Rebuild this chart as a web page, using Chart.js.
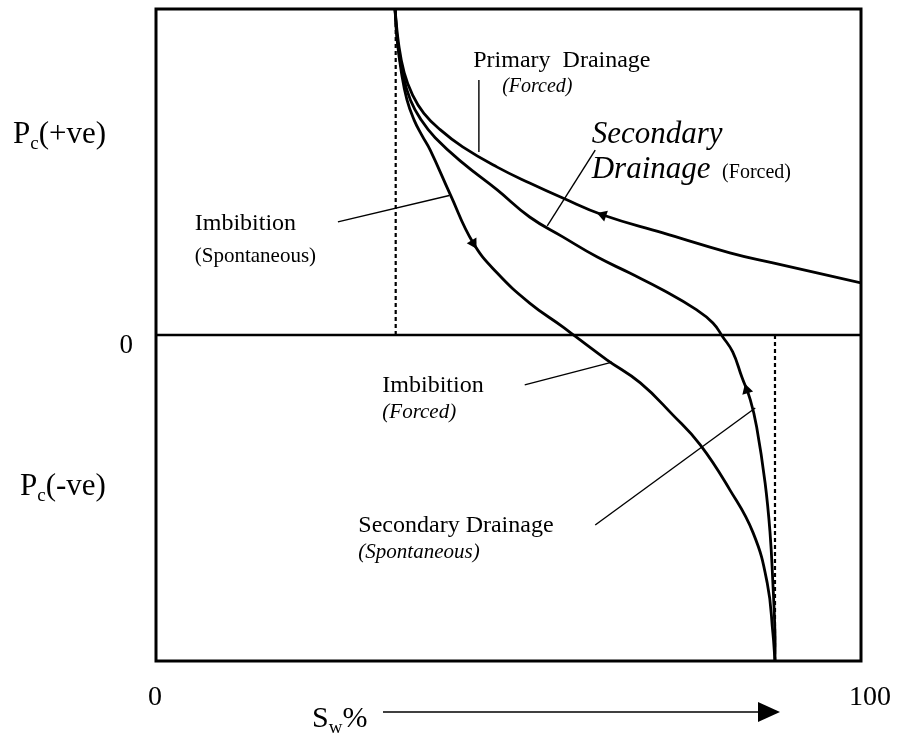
<!DOCTYPE html>
<html>
<head>
<meta charset="utf-8">
<title>Capillary pressure hysteresis</title>
<script src="https://cdn.jsdelivr.net/npm/chart.js@4.4.0/dist/chart.umd.min.js"></script>
<style>
  html, body { margin: 0; padding: 0; background: #fff; }
  #wrap { width: 897px; height: 734px; }
</style>
</head>
<body>
<div id="wrap"><canvas id="pcChart" width="897" height="734"></canvas></div>
<script>
// Sw in %, Pc in relative units (+100 = top of frame, -100 = bottom)
// every curve is listed in the direction the process runs

// Primary drainage (forced): from high Sw towards Swi
const primarySw = [100, 87.5, 81.4, 71.9, 63.4, 57.7, 53.0, 48.4, 43.5, 40.3, 38.0, 36.4, 35.2, 34.4, 33.9];
const primaryPc = [16.0, 22.1, 25.2, 31.3, 36.8, 42.0, 46.6, 51.5, 57.7, 63.0, 68.0, 73.6, 80.5, 89.5, 100];

// Secondary drainage: spontaneous (Pc < 0) then forced (Pc > 0)
const secondarySw = [87.8, 87.8, 87.5, 87.1, 86.4, 85.2, 84.3, 83.1, 81.8, 80.4, 79.0, 76.7, 71.9, 67.2, 62.6, 57.7, 53.0, 48.4, 43.5, 39.6, 37.6, 36.1, 35.0, 34.3, 33.9];
const secondaryPc = [-100, -91.4, -76.1, -60.7, -45.4, -28.2, -19.9, -12.9, -5.2, -0.6, 3.7, 7.7, 13.8, 19.0, 23.9, 30.1, 36.2, 44.5, 52.8, 60.5, 66.0, 72.0, 80.0, 89.5, 100];

// Imbibition: spontaneous (Pc > 0) then forced (Pc < 0)
const imbibitionSw = [33.9, 34.2, 34.8, 35.6, 36.6, 37.7, 38.9, 41.7, 45.0, 48.4, 53.0, 57.7, 59.4, 64.0, 68.7, 73.3, 77.2, 81.4, 84.7, 86.7, 87.5, 87.8];
const imbibitionPc = [100, 90.5, 80.7, 72.1, 66.0, 61.3, 56.7, 43.3, 28.2, 19.0, 9.8, 2.5, -0.3, -7.7, -14.7, -24.5, -33.7, -47.5, -60.7, -76.1, -91.4, -100];

// end point saturations (dashed verticals)
const swiSw = [34.0, 34.0];
const swiPc = [0, 100];
const sorSw = [87.8, 87.8];
const sorPc = [0, -100];

// direction arrows sitting on the curves
const arrowSw = [63.4, 45.0, 83.8];
const arrowPc = [36.8, 28.2, -16.9];

// leader lines from the labels to the curves: [Sw0, Pc0, Sw1, Pc1]
const leaderLines = [
    [45.8, 78.2, 45.8, 56.1],
    [62.3, 56.7, 55.5, 33.5],
    [25.8, 34.7, 41.6, 42.8],
    [52.3, -15.3, 64.7, -8.3],
    [62.3, -58.3, 85.0, -22.4]
];

const toPoints = (xs, ys) => xs.map((x, i) => ({ x, y: ys[i] }));

const primary = toPoints(primarySw, primaryPc);
const secondary = toPoints(secondarySw, secondaryPc);
const imbibition = toPoints(imbibitionSw, imbibitionPc);
const arrowCurves = [primary, imbibition, secondary];

// heading of a curve (degrees clockwise from up) near a given point
function curveHeading(chart, curve, pt) {
    const xs = chart.scales.x, ys = chart.scales.y;
    let best = 0, bestD = Infinity;
    curve.forEach((p, i) => {
        const d = (p.x - pt.x) ** 2 + (p.y - pt.y) ** 2;
        if (d < bestD) { bestD = d; best = i; }
    });
    const a = curve[Math.max(best - 1, 0)];
    const b = curve[Math.min(best + 1, curve.length - 1)];
    const dx = xs.getPixelForValue(b.x) - xs.getPixelForValue(a.x);
    const dy = ys.getPixelForValue(b.y) - ys.getPixelForValue(a.y);
    return Math.atan2(dx, -dy) * 180 / Math.PI;
}

const SERIF = '"Liberation Serif", "Times New Roman", serif';

// text placed inside the frame, anchored in data units (left / baseline)
const notes = [
    { text: 'Primary  Drainage', x: 45.0, y: 82.2, font: '24px ' + SERIF },
    { text: '(Forced)', x: 49.1, y: 74.5, font: 'italic 20px ' + SERIF },
    { text: 'Secondary', x: 61.8, y: 58.9, font: 'italic 31px ' + SERIF },
    { text: 'Drainage', x: 61.8, y: 48.2, font: 'italic 31px ' + SERIF },
    { text: '(Forced)', x: 80.3, y: 48.2, font: '20px ' + SERIF },
    { text: 'Imbibition', x: 5.5, y: 32.2, font: '24px ' + SERIF },
    { text: '(Spontaneous)', x: 5.5, y: 22.4, font: '21px ' + SERIF },
    { text: 'Imbibition', x: 32.1, y: -17.5, font: '24px ' + SERIF },
    { text: '(Forced)', x: 32.1, y: -25.5, font: 'italic 21px ' + SERIF },
    { text: 'Secondary Drainage', x: 28.7, y: -60.4, font: '24px ' + SERIF },
    { text: '(Spontaneous)', x: 28.7, y: -68.4, font: 'italic 21px ' + SERIF }
];

// draws main text + lowered subscript + rest
function drawSubscripted(ctx, main, sub, rest, x, y, size) {
    ctx.font = size + 'px ' + SERIF;
    ctx.fillText(main, x, y);
    let cx = x + ctx.measureText(main).width;
    ctx.font = Math.round(size * 0.62) + 'px ' + SERIF;
    ctx.fillText(sub, cx, y + size * 0.2);
    cx += ctx.measureText(sub).width;
    ctx.font = size + 'px ' + SERIF;
    ctx.fillText(rest, cx, y);
}

const framePlugin = {
    id: 'frame',
    beforeDatasetsDraw(chart) {
        const { ctx, chartArea: a, scales: { y } } = chart;
        ctx.save();
        ctx.strokeStyle = '#000';
        ctx.lineWidth = 3;
        ctx.strokeRect(a.left, a.top, a.right - a.left, a.bottom - a.top);
        const y0 = y.getPixelForValue(0);
        ctx.lineWidth = 2.5;
        ctx.beginPath();
        ctx.moveTo(a.left, y0);
        ctx.lineTo(a.right, y0);
        ctx.stroke();
        ctx.restore();
    },
    afterDraw(chart) {
        const { ctx, chartArea: a, scales: { x, y } } = chart;
        ctx.save();
        ctx.fillStyle = '#000';
        ctx.textBaseline = 'alphabetic';

        // labels inside the frame
        ctx.textAlign = 'left';
        notes.forEach(n => {
            ctx.font = n.font;
            ctx.fillText(n.text, x.getPixelForValue(n.x), y.getPixelForValue(n.y));
        });

        // y axis labels
        const y0 = y.getPixelForValue(0);
        drawSubscripted(ctx, 'P', 'c', '(+ve)', a.left - 143, a.top + 134, 31);
        drawSubscripted(ctx, 'P', 'c', '(-ve)', a.left - 136, a.top + 486, 31);
        ctx.font = '27px ' + SERIF;
        ctx.textAlign = 'right';
        ctx.fillText('0', a.left - 23, y0 + 18);

        // x axis labels
        ctx.textAlign = 'center';
        ctx.font = '28px ' + SERIF;
        ctx.fillText('0', x.getPixelForValue(0) - 1, a.bottom + 44);
        ctx.fillText('100', x.getPixelForValue(100) + 9, a.bottom + 44);

        ctx.textAlign = 'left';
        drawSubscripted(ctx, 'S', 'w', '%', a.left + 156, a.bottom + 66, 30);

        // Sw arrow
        const ay = a.bottom + 51;
        const ax0 = a.left + 227, ax1 = a.left + 624;
        ctx.strokeStyle = '#000';
        ctx.lineWidth = 1.5;
        ctx.beginPath();
        ctx.moveTo(ax0, ay);
        ctx.lineTo(ax1 - 18, ay);
        ctx.stroke();
        ctx.beginPath();
        ctx.moveTo(ax1, ay);
        ctx.lineTo(ax1 - 22, ay - 10);
        ctx.lineTo(ax1 - 22, ay + 10);
        ctx.closePath();
        ctx.fill();
        ctx.restore();
    }
};

const curveStyle = {
    showLine: true,
    borderColor: '#000',
    borderWidth: 2.8,
    pointRadius: 0,
    tension: 0.45,
    fill: false
};

const datasets = [
    Object.assign({ label: 'Primary Drainage (Forced)', data: primary }, curveStyle),
    Object.assign({ label: 'Secondary Drainage', data: secondary }, curveStyle),
    Object.assign({ label: 'Imbibition', data: imbibition }, curveStyle),
    {
        label: 'Swi', data: toPoints(swiSw, swiPc), showLine: true,
        borderColor: '#000', borderWidth: 2.2, borderDash: [4, 3], pointRadius: 0
    },
    {
        label: '1-Sor', data: toPoints(sorSw, sorPc), showLine: true,
        borderColor: '#000', borderWidth: 2.2, borderDash: [4, 3], pointRadius: 0
    },
    {
        label: 'direction', data: toPoints(arrowSw, arrowPc), showLine: false,
        pointStyle: 'triangle', pointRadius: 6.5, borderWidth: 0,
        backgroundColor: '#000',
        rotation: ctx => ctx.dataIndex === undefined ? 0 :
            curveHeading(ctx.chart, arrowCurves[ctx.dataIndex], ctx.raw)
    }
];

leaderLines.forEach((l, i) => {
    datasets.push({
        label: 'leader ' + i,
        data: [{ x: l[0], y: l[1] }, { x: l[2], y: l[3] }],
        showLine: true, borderColor: '#000', borderWidth: 1.4, pointRadius: 0
    });
});

new Chart(document.getElementById('pcChart').getContext('2d'), {
    type: 'scatter',
    data: { datasets },
    options: {
        responsive: false,
        animation: false,
        layout: { padding: { left: 156, top: 9, right: 36, bottom: 73 } },
        plugins: { legend: { display: false }, tooltip: { enabled: false } },
        scales: {
            x: { type: 'linear', min: 0, max: 100, display: false },
            y: { type: 'linear', min: -100, max: 100, display: false }
        }
    },
    plugins: [framePlugin]
});
</script>
</body>
</html>
